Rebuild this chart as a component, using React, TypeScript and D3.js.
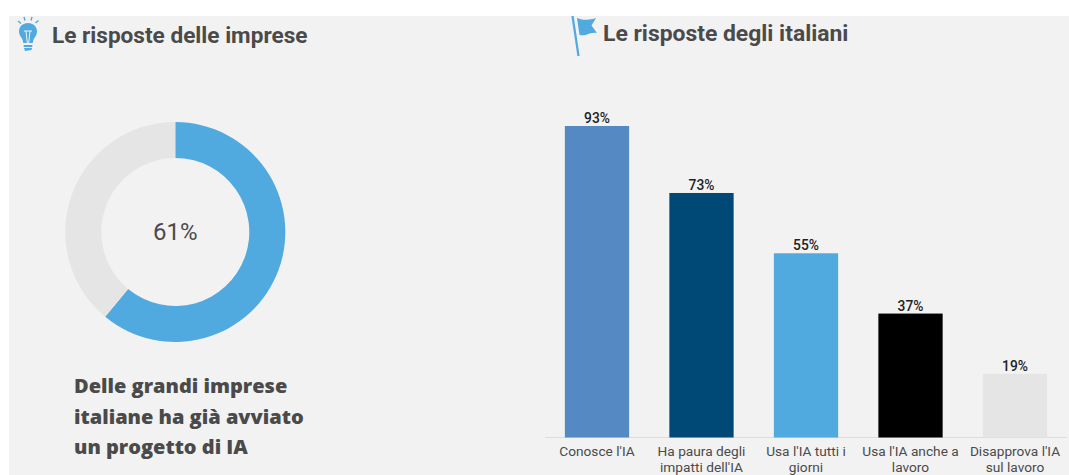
import React from "react";
import * as d3 from "d3";

const donutValue = 61;
const donutLabel = "61%";
const noteLines = ["Delle grandi imprese", "italiane ha già avviato", "un progetto di IA"];
const titleLeft = "Le risposte delle imprese";
const titleRight = "Le risposte degli italiani";

const barKeys = ["a", "b", "c", "d", "e"];
const barValues = [93, 73, 55, 37, 19];
const barColors = ["#5589c3", "#004876", "#50a9df", "#000000", "#e5e5e5"];
const barLabels = [
  ["Conosce l'IA"],
  ["Ha paura degli", "impatti dell'IA"],
  ["Usa l'IA tutti i", "giorni"],
  ["Usa l'IA anche a", "lavoro"],
  ["Disapprova l'IA", "sul lavoro"],
];

const roboto = "Roboto, sans-serif";

export default function App() {
  const x = d3.scaleBand<string>().domain(barKeys).range([545, 1067]).paddingInner(0.385).paddingOuter(0.19);
  const y = d3.scaleLinear().domain([0, 93]).range([437.5, 126]);
  const pie = d3.pie<number>().sort(null)([donutValue, 100 - donutValue]);
  const arc = d3.arc<d3.PieArcDatum<number>>().innerRadius(74).outerRadius(110);

  return (
    <svg
      width={1069}
      height={475}
      style={{ position: "absolute", left: 0, top: 0, background: "#fff" }}
    >
      <rect x={9} y={16} width={1060} height={459} fill="#f2f2f2" />

      {/* Light bulb icon */}
      <g fill="#50a9df">
        <path d="M28 23c-5.500 0-9 4-9 8.500 0 3.600 2.300 5.500 3.500 8l.8 3.500h9.400l.8-3.500c1.200-2.500 3.500-4.400 3.500-8C37 27 33.500 23 28 23z" />
        <path d="M23.500 45h9l-.4 2h-8.200zM24 48h8l-.5 2-6.500 1z" />
      </g>
      <path d="M24 31h8M26 31l1.300 12M30 31l-1.300 12" stroke="#f2f2f2" strokeWidth={1} fill="none" />
      <path d="M18 21l3 2.500M24 17l1 3.500M32 17l-1 3.500M38.500 20.500l-3 2.500" stroke="#50a9df" strokeWidth={1.400} fill="none" />
      <text x={52} y={43} fontFamily={roboto} fontWeight={700} fontSize={22.6} fill="#4a4a4a">{titleLeft}</text>

      {/* Flag icon */}
      <path d="M572.500 16L578.500 56" stroke="#50a9df" strokeWidth={2.200} fill="none" />
      <path d="M577 18c5 2 9 2 12 1.500s5-.5 7-1.500l-4.500 7.500 5.500 7.500c-4-.5-7 .5-10 1.500s-5 1-7.500 .5z" fill="#50a9df" />
      <text x={603} y={41} fontFamily={roboto} fontWeight={700} fontSize={22.9} fill="#4a4a4a">{titleRight}</text>

      {/* Donut */}
      <g transform="translate(175.3,232)">
        {pie.map((slice, i) => (
          <path key={i} d={arc(slice) ?? ""} fill={i === 0 ? "#50a9df" : "#e5e5e5"} />
        ))}
        <text textAnchor="middle" y={8} fontFamily={roboto} fontSize={24} fill="#4a4a4a">{donutLabel}</text>
      </g>
      {noteLines.map((line, i) => (
        <text key={line} x={74} y={393 + i * 30.5} fontFamily="'Open Sans', sans-serif" fontWeight={800} fontSize={20} fill="#4a4a4a">{line}</text>
      ))}

      {/* Bars */}
      <line x1={545} x2={1067} y1={437.5} y2={437.5} stroke="#dcdcdc" />
      {barKeys.map((key, i) => {
        const cx = (x(key) ?? 0) + x.bandwidth() / 2;
        return (
          <g key={key}>
            <rect x={x(key)} y={y(barValues[i])} width={x.bandwidth()} height={y(0) - y(barValues[i])} fill={barColors[i]} />
            <text x={cx} y={y(barValues[i]) - 3} textAnchor="middle" fontFamily={roboto} fontWeight={500} fontSize={13.8} fill="#222">{barValues[i]}%</text>
            {barLabels[i].map((line, j) => (
              <text key={line} x={cx} y={455.5 + j * 16} textAnchor="middle" fontFamily={roboto} fontSize={13.7} fill="#4a4a4a">{line}</text>
            ))}
          </g>
        );
      })}
    </svg>
  );
}
